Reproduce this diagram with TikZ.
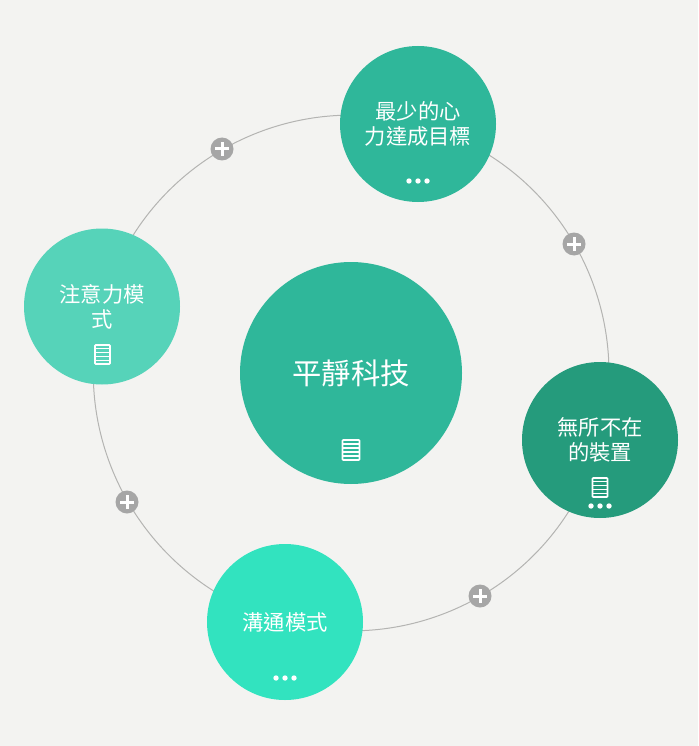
\documentclass[tikz,border=0pt]{standalone}
\usepackage{fontspec}
\setmainfont{Noto Sans CJK TC}
\usetikzlibrary{backgrounds}
\definecolor{paper}{HTML}{F3F3F1}
\definecolor{cmain}{HTML}{2FB79A}
\definecolor{cleft}{HTML}{56D3B9}
\definecolor{cright}{HTML}{259B7C}
\definecolor{cbottom}{HTML}{32E3BF}
\definecolor{ringc}{HTML}{B4B4B2}
\definecolor{plusc}{HTML}{A6A6A6}
\tikzset{
  bubble/.style={circle,draw=none,inner sep=0pt,minimum size=156pt,text=white,align=center,font=\fontsize{21.3}{25}\selectfont},
  hub/.style={bubble,minimum size=222pt,font=\fontsize{29.3}{34}\selectfont},
  ring/.style={draw=ringc,line width=1pt,bend left=45},
  plusbtn/.style={circle,fill=plusc,inner sep=0pt,minimum size=23pt},
  plusbar/.style={draw=white,line width=3pt},
  iconbox/.style={draw=white,line width=1.6pt,fill=none,rounded corners=0.8pt},
  iconline/.style={draw=white,line width=1.3pt},
  dot/.style={fill=white,draw=none}
}
\newcommand{\plusmark}[1]{%
  \draw[plusbar] ([xshift=-7pt]#1.center) -- ([xshift=7pt]#1.center);
  \draw[plusbar] ([yshift=-7pt]#1.center) -- ([yshift=7pt]#1.center);}
\newcommand{\docicon}[4]{% x y halfwidth halfheight
  \draw[iconbox] (#1-#3,#2-#4) rectangle (#1+#3,#2+#4);
  \foreach \k in {-0.5,-0.167,0.167,0.5} \draw[iconline] (#1-#3,#2+\k*#4*1.2) -- (#1+#3,#2+\k*#4*1.2);}
\newcommand{\threedots}[2]{%
  \foreach \k in {-9,0,9} \fill[dot] (#1+\k,#2) circle (2.7pt);}
\begin{document}
\begin{tikzpicture}[x=1pt,y=-1pt]
\useasboundingbox (0,0) rectangle (698,746);
\node[hub,fill=cmain] (center) at (351,373) {平靜科技};
\node[bubble,fill=cmain] (top) at (418,124) {最少的心\\力達成目標};
\node[bubble,fill=cright] (right) at (600,440) {無所不在\\的裝置};
\node[bubble,fill=cbottom] (bottom) at (285,622) {溝通模式};
\node[bubble,fill=cleft] (left) at (102,306.5) {注意力模\\式};
\begin{pgfonlayer}{background}
\fill[paper] (0,0) rectangle (698,746);
\draw[ring] (top.center) to (right.center);
\draw[ring] (right.center) to (bottom.center);
\draw[ring] (bottom.center) to (left.center);
\draw[ring] (left.center) to (top.center);
\end{pgfonlayer}
\node[plusbtn] (p1) at (222,149) {};
\node[plusbtn] (p2) at (574,244) {};
\node[plusbtn] (p3) at (480,596) {};
\node[plusbtn] (p4) at (127,502) {};
\plusmark{p1}\plusmark{p2}\plusmark{p3}\plusmark{p4}
\docicon{351}{450}{8.5}{10}
\docicon{102.5}{354.5}{7.5}{9.5}
\docicon{600}{487.5}{7.5}{9.5}
\threedots{418}{181}
\threedots{600}{506}
\threedots{285}{678}
\end{tikzpicture}
\end{document}
